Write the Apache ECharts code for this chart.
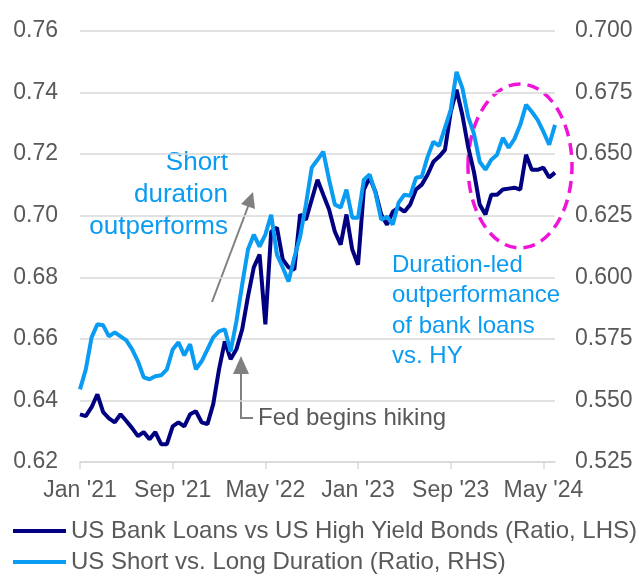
<!DOCTYPE html>
<html><head><meta charset="utf-8">
<script src="https://cdn.jsdelivr.net/npm/echarts@6/dist/echarts.min.js"></script>
<style>html,body{margin:0;padding:0;background:#fff}#c{width:641px;height:576px}</style>
</head><body><div id="c"></div>
<script>
const dates = [
 '2021-01-01','2021-01-16','2021-02-01','2021-02-16','2021-03-01','2021-03-16','2021-04-01','2021-04-16','2021-05-01','2021-05-16',
 '2021-06-01','2021-06-16','2021-07-01','2021-07-16','2021-08-01','2021-08-16','2021-09-01','2021-09-16','2021-10-01','2021-10-16',
 '2021-11-01','2021-11-16','2021-12-01','2021-12-16','2022-01-01','2022-01-16','2022-02-01','2022-02-16','2022-03-01','2022-03-16',
 '2022-04-01','2022-04-16','2022-05-01','2022-05-16','2022-06-01','2022-06-16','2022-07-01','2022-07-16','2022-08-01','2022-08-16',
 '2022-09-01','2022-09-16','2022-10-01','2022-10-16','2022-11-01','2022-11-16','2022-12-01','2022-12-16','2023-01-01','2023-01-16',
 '2023-02-01','2023-02-16','2023-03-01','2023-03-16','2023-04-01','2023-04-16','2023-05-01','2023-05-16','2023-06-01','2023-06-16',
 '2023-07-01','2023-07-16','2023-08-01','2023-08-16','2023-09-01','2023-09-16','2023-10-01','2023-10-16','2023-11-01','2023-11-16',
 '2023-12-01','2023-12-16','2024-01-01','2024-01-16','2024-02-01','2024-02-16','2024-03-01','2024-03-16','2024-04-01','2024-04-16',
 '2024-05-01','2024-05-16','2024-05-31'
];
const bankLoansVsHY = [
 0.6355,0.6349,0.6378,0.6420,0.6362,0.6342,0.6329,0.6355,0.6333,0.6310,
 0.6284,0.6297,0.6274,0.6297,0.6258,0.6258,0.6316,0.6329,0.6316,0.6355,
 0.6365,0.6329,0.6323,0.6388,0.6501,0.6592,0.6534,0.6566,0.6631,0.6738,
 0.6832,0.6874,0.6647,0.6948,0.6961,0.6858,0.6832,0.6825,0.7004,0.6987,
 0.7052,0.7117,0.7068,0.7020,0.6948,0.6906,0.7004,0.6890,0.6841,0.7085,
 0.7124,0.7078,0.7004,0.6971,0.7013,0.7026,0.7013,0.7036,0.7085,0.7101,
 0.7133,0.7175,0.7192,0.7214,0.7337,0.7409,0.7328,0.7224,0.7143,0.7036,
 0.7004,0.7068,0.7068,0.7085,0.7088,0.7091,0.7085,0.7198,0.7149,0.7149,
 0.7156,0.7124,0.7140
];
const shortVsLong = [
 0.5545,0.5626,0.5756,0.5809,0.5805,0.5760,0.5776,0.5760,0.5744,0.5707,
 0.5659,0.5594,0.5586,0.5598,0.5602,0.5626,0.5707,0.5736,0.5683,0.5728,
 0.5626,0.5659,0.5707,0.5756,0.5780,0.5789,0.5699,0.5821,0.5971,0.6113,
 0.6173,0.6125,0.6173,0.6254,0.6092,0.6040,0.5983,0.6080,0.6165,0.6295,
 0.6445,0.6477,0.6510,0.6396,0.6295,0.6283,0.6356,0.6242,0.6242,0.6396,
 0.6417,0.6344,0.6234,0.6246,0.6214,0.6303,0.6335,0.6331,0.6404,0.6408,
 0.6489,0.6550,0.6534,0.6607,0.6680,0.6834,0.6769,0.6652,0.6583,0.6469,
 0.6437,0.6477,0.6498,0.6566,0.6526,0.6562,0.6619,0.6700,0.6672,0.6639,
 0.6591,0.6538,0.6619
];
const seriesNames = ['US Bank Loans vs US High Yield Bonds (Ratio, LHS)', 'US Short vs. Long Duration (Ratio, RHS)'];
const monthNames = ['Jan','Feb','Mar','Apr','May','Jun','Jul','Aug','Sep','Oct','Nov','Dec'];

const DARK = '#000080', LIGHT = '#0A9BF2', GREY = '#595959', GRID = '#D9D9D9';
const FONT = 'Liberation Sans, Arial, sans-serif';

const legendBase = {
  orient: 'horizontal', left: 13, padding: 0, itemWidth: 53, itemHeight: 4, icon: 'rect',
  textStyle: {color: GREY, fontSize: 24, fontFamily: FONT}
};

const chart = echarts.init(document.getElementById('c'), null, {renderer: 'canvas'});
chart.setOption({
  animation: false,
  backgroundColor: '#fff',
  grid: {left: 80, right: 86, top: 31, bottom: 114, containLabel: false},
  legend: [
    Object.assign({}, legendBase, {top: 519, data: [seriesNames[0]]}),
    Object.assign({}, legendBase, {top: 550, data: [seriesNames[1]]})
  ],
  xAxis: {
    type: 'category', data: dates, boundaryGap: false,
    axisLine: {lineStyle: {color: GRID, width: 1.5}},
    axisTick: {show: true, interval: 15, length: 7, lineStyle: {color: GRID, width: 1.5}},
    axisLabel: {
      interval: 15, margin: 17, color: GREY, fontSize: 23, fontFamily: FONT,
      formatter: function (v) { const p = v.split('-'); return monthNames[+p[1]-1] + " '" + p[0].slice(2); }
    },
    splitLine: {show: false}
  },
  yAxis: [
    {type: 'value', min: 0.62, max: 0.76, interval: 0.02,
     axisLine: {show: false}, axisTick: {show: false},
     axisLabel: {margin: 22, color: GREY, fontSize: 23, fontFamily: FONT, formatter: v => v.toFixed(2)},
     splitLine: {lineStyle: {color: GRID, width: 1.5}}},
    {type: 'value', min: 0.525, max: 0.7, interval: 0.025,
     axisLine: {show: false}, axisTick: {show: false},
     axisLabel: {margin: 20, color: GREY, fontSize: 23, fontFamily: FONT, formatter: v => v.toFixed(3)},
     splitLine: {show: false}}
  ],
  series: [
    {name: seriesNames[0], type: 'line', yAxisIndex: 0, data: bankLoansVsHY, showSymbol: false,
     lineStyle: {color: DARK, width: 4}, itemStyle: {color: DARK}},
    {name: seriesNames[1], type: 'line', yAxisIndex: 1, data: shortVsLong, showSymbol: false,
     lineStyle: {color: LIGHT, width: 4}, itemStyle: {color: LIGHT}}
  ],
  graphic: [
    {type: 'text', x: 228, y: 147, style: {text: 'Short\nduration\noutperforms', fill: LIGHT, font: '26px ' + FONT, align: 'right', lineHeight: 32}},
    {type: 'text', x: 392, y: 250, style: {text: 'Duration-led\noutperformance\nof bank loans\nvs. HY', fill: LIGHT, font: '24px ' + FONT, align: 'left', lineHeight: 30.5}},
    {type: 'text', x: 258, y: 406, style: {text: 'Fed begins hiking', fill: GREY, font: '24px ' + FONT}},
    {type: 'line', shape: {x1: 212, y1: 302, x2: 249, y2: 204}, style: {stroke: '#808080', lineWidth: 2}},
    {type: 'polygon', shape: {points: [[253, 192], [255, 209], [241, 204]]}, style: {fill: '#808080'}},
    {type: 'polyline', shape: {points: [[253, 418], [241, 418], [241, 372]]}, style: {stroke: '#808080', lineWidth: 2, fill: null}},
    {type: 'polygon', shape: {points: [[241, 356], [249, 374], [233, 374]]}, style: {fill: '#808080'}},
    {type: 'ellipse', shape: {cx: 520, cy: 166, rx: 52, ry: 82}, style: {fill: null, stroke: '#F013D8', lineWidth: 3.5, lineDash: [12, 7]}}
  ]
});
</script></body></html>
